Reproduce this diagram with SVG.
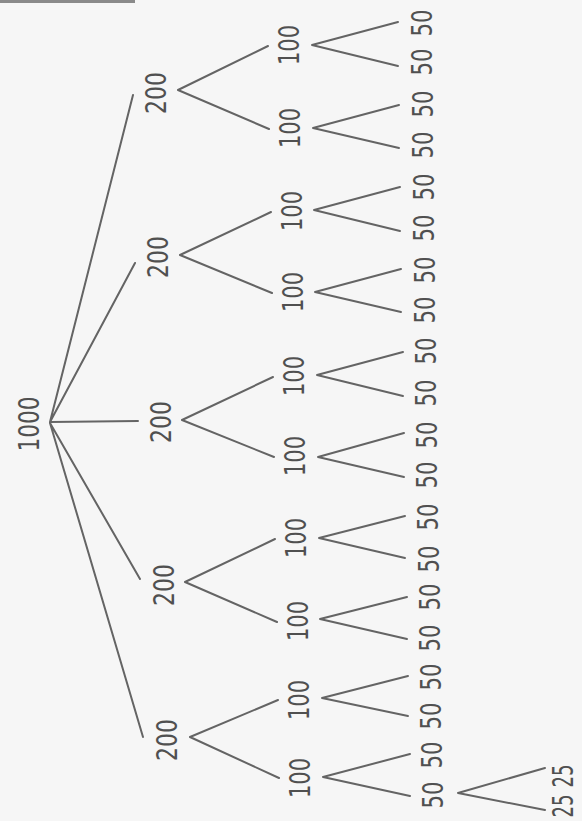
<svg xmlns="http://www.w3.org/2000/svg" width="582" height="821" viewBox="0 0 582 821">
<style>
.bg{fill:#f6f6f6}
.e{stroke:#646464;stroke-width:2;stroke-linecap:round;fill:none}
text{font-family:"DejaVu Sans","Liberation Sans",sans-serif;font-size:29px;fill:#505050;text-anchor:middle}
</style>
<rect class="bg" x="0" y="0" width="582" height="821"/>
<rect x="0" y="0" width="135" height="3" fill="#8a8a8a"/>
<g id="connectors" class="e">
<path d="M50 422L133 95M50 422L135 263M50 422L138 421M50 423L140 579M50 423L143 737"/>
<path d="M178 90L268 46M178 90L269 129"/>
<path d="M180 255L271 212M180 255L272 293"/>
<path d="M182 420L273 377M182 420L274 457"/>
<path d="M185 582L275 539M185 582L277 622"/>
<path d="M190 737L278 700M190 737L279 778"/>
<path d="M312 45L398 22M312 45L398 66"/>
<path d="M313 128L399 105M313 128L399 148"/>
<path d="M314 210L400 187M314 210L400 231"/>
<path d="M315 292L401 269M315 292L401 312"/>
<path d="M317 375L403 352M317 375L403 396"/>
<path d="M318 457L404 433M318 457L404 477"/>
<path d="M319 538L405 516M319 538L405 558"/>
<path d="M320 619L407 597M320 619L407 639"/>
<path d="M322 698L408 676M322 698L408 716"/>
<path d="M323 777L410 754M323 777L410 796"/>
<path d="M458 793L545 768M458 793L545 810"/>
</g>
<g id="n1000"><text transform="translate(28,424) rotate(-90)" y="10.5" textLength="55" lengthAdjust="spacingAndGlyphs">1000</text></g>
<g id="a200"><text transform="translate(155,93) rotate(-90)" y="10.5" textLength="42" lengthAdjust="spacingAndGlyphs">200</text></g>
<g id="b200"><text transform="translate(157,257) rotate(-90)" y="10.5" textLength="42" lengthAdjust="spacingAndGlyphs">200</text></g>
<g id="c200"><text transform="translate(160,422) rotate(-90)" y="10.5" textLength="42" lengthAdjust="spacingAndGlyphs">200</text></g>
<g id="d200"><text transform="translate(163,585) rotate(-90)" y="10.5" textLength="42" lengthAdjust="spacingAndGlyphs">200</text></g>
<g id="e200"><text transform="translate(166,740) rotate(-90)" y="10.5" textLength="42" lengthAdjust="spacingAndGlyphs">200</text></g>
<g id="a1"><text transform="translate(288,45) rotate(-90)" y="10.5" textLength="40" lengthAdjust="spacingAndGlyphs">100</text></g>
<g id="a2"><text transform="translate(289,128) rotate(-90)" y="10.5" textLength="40" lengthAdjust="spacingAndGlyphs">100</text></g>
<g id="b1"><text transform="translate(291,211) rotate(-90)" y="10.5" textLength="40" lengthAdjust="spacingAndGlyphs">100</text></g>
<g id="b2"><text transform="translate(292,292) rotate(-90)" y="10.5" textLength="40" lengthAdjust="spacingAndGlyphs">100</text></g>
<g id="c1"><text transform="translate(293,376) rotate(-90)" y="10.5" textLength="40" lengthAdjust="spacingAndGlyphs">100</text></g>
<g id="c2"><text transform="translate(294,456) rotate(-90)" y="10.5" textLength="40" lengthAdjust="spacingAndGlyphs">100</text></g>
<g id="d1"><text transform="translate(295,538) rotate(-90)" y="10.5" textLength="40" lengthAdjust="spacingAndGlyphs">100</text></g>
<g id="d2"><text transform="translate(297,621) rotate(-90)" y="10.5" textLength="40" lengthAdjust="spacingAndGlyphs">100</text></g>
<g id="e1"><text transform="translate(298,700) rotate(-90)" y="10.5" textLength="40" lengthAdjust="spacingAndGlyphs">100</text></g>
<g id="e2"><text transform="translate(299,778) rotate(-90)" y="10.5" textLength="40" lengthAdjust="spacingAndGlyphs">100</text></g>
<g id="l50">
<text transform="translate(421,23) rotate(-90)" y="10.5" textLength="27" lengthAdjust="spacingAndGlyphs">50</text>
<text transform="translate(421,62) rotate(-90)" y="10.5" textLength="27" lengthAdjust="spacingAndGlyphs">50</text>
<text transform="translate(422,104) rotate(-90)" y="10.5" textLength="27" lengthAdjust="spacingAndGlyphs">50</text>
<text transform="translate(422,145) rotate(-90)" y="10.5" textLength="27" lengthAdjust="spacingAndGlyphs">50</text>
<text transform="translate(423,187) rotate(-90)" y="10.5" textLength="27" lengthAdjust="spacingAndGlyphs">50</text>
<text transform="translate(423,228) rotate(-90)" y="10.5" textLength="27" lengthAdjust="spacingAndGlyphs">50</text>
<text transform="translate(424,270) rotate(-90)" y="10.5" textLength="27" lengthAdjust="spacingAndGlyphs">50</text>
<text transform="translate(424,310) rotate(-90)" y="10.5" textLength="27" lengthAdjust="spacingAndGlyphs">50</text>
<text transform="translate(425,351) rotate(-90)" y="10.5" textLength="27" lengthAdjust="spacingAndGlyphs">50</text>
<text transform="translate(425,393) rotate(-90)" y="10.5" textLength="27" lengthAdjust="spacingAndGlyphs">50</text>
<text transform="translate(426,435) rotate(-90)" y="10.5" textLength="27" lengthAdjust="spacingAndGlyphs">50</text>
<text transform="translate(426,475) rotate(-90)" y="10.5" textLength="27" lengthAdjust="spacingAndGlyphs">50</text>
<text transform="translate(427,517) rotate(-90)" y="10.5" textLength="27" lengthAdjust="spacingAndGlyphs">50</text>
<text transform="translate(428,559) rotate(-90)" y="10.5" textLength="27" lengthAdjust="spacingAndGlyphs">50</text>
<text transform="translate(429,597) rotate(-90)" y="10.5" textLength="27" lengthAdjust="spacingAndGlyphs">50</text>
<text transform="translate(429,638) rotate(-90)" y="10.5" textLength="27" lengthAdjust="spacingAndGlyphs">50</text>
<text transform="translate(430,677) rotate(-90)" y="10.5" textLength="27" lengthAdjust="spacingAndGlyphs">50</text>
<text transform="translate(430,716) rotate(-90)" y="10.5" textLength="27" lengthAdjust="spacingAndGlyphs">50</text>
<text transform="translate(431,755) rotate(-90)" y="10.5" textLength="27" lengthAdjust="spacingAndGlyphs">50</text>
</g>
<g id="n50last"><text transform="translate(432,795) rotate(-90)" y="10.5" textLength="27" lengthAdjust="spacingAndGlyphs">50</text></g>
<g id="l25">
<text transform="translate(563,776) rotate(-90)" y="10" textLength="23" lengthAdjust="spacingAndGlyphs">25</text>
<text transform="translate(563,806) rotate(-90)" y="10" textLength="23" lengthAdjust="spacingAndGlyphs">25</text>
</g>
</svg>
